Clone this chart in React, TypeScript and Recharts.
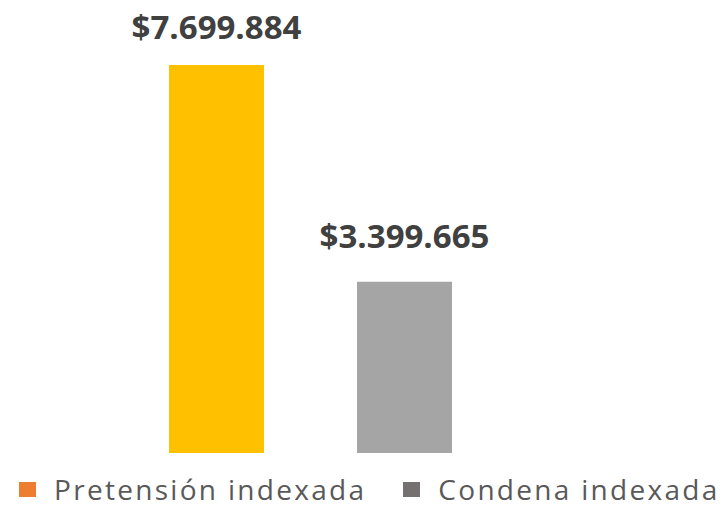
import React from 'react';
import { BarChart, Bar, XAxis, YAxis, Legend, LabelList } from 'recharts';

const categories = ['Total'];
const pretension = [7699884];
const condena = [3399665];
const seriesKeys = ['pretension', 'condena'];
const seriesNames = ['Pretensión indexada', 'Condena indexada'];
const barColors = ['#FFC000', '#A5A5A5'];
const legendColors = ['#ED7D31', '#767171'];

const data = categories.map((c, i) => ({
  name: c,
  pretension: pretension[i],
  condena: condena[i],
}));

const fmt = (v: number) =>
  '$' + Math.round(v).toString().replace(/\B(?=(\d{3})+(?!\d))/g, '.');

const LABEL_FONT = 33;

const renderLabel = (props: any) => {
  const { x, y, width, value } = props;
  const baseline = Math.max(Number(y) - 34, LABEL_FONT + 6);
  return (
    <text
      x={Number(x) + Number(width) / 2}
      y={baseline}
      textAnchor="middle"
      fill="#404040"
      fontFamily="'Open Sans', sans-serif"
      fontWeight={700}
      fontSize={LABEL_FONT}
    >
      {fmt(Number(value))}
    </text>
  );
};

const renderLegend = () => {
  return (
    <div
      style={{
        display: 'flex',
        alignItems: 'center',
        fontFamily: "'Open Sans', sans-serif",
        fontSize: 28,
        lineHeight: '30px',
        letterSpacing: '2.3px',
        color: '#595959',
        whiteSpace: 'nowrap',
      }}
    >
      {seriesNames.map((name, i) => (
        <div
          key={i}
          style={{ display: 'flex', alignItems: 'center', marginLeft: i === 0 ? 19 : 37 }}
        >
          <span
            style={{
              display: 'inline-block',
              width: 17,
              height: 15,
              background: legendColors[i],
              marginRight: 18,
            }}
          />
          <span>{name}</span>
        </div>
      ))}
    </div>
  );
};

export default function App() {
  return (
    <div style={{ position: 'absolute', left: 0, top: 0, width: 728, height: 505, background: '#fff' }}>
      <BarChart
        width={728}
        height={505}
        data={data}
        margin={{ top: 65, right: 129, bottom: 52, left: 21 }}
        barSize={95}
        barGap={93}
      >
        <XAxis dataKey="name" hide />
        <YAxis hide domain={[0, pretension[0]]} />
        <Legend
          layout="horizontal"
          verticalAlign="middle"
          align="center"
          content={renderLegend}
          wrapperStyle={{ top: 474, left: 0, width: 728, height: 30, overflow: 'visible' }}
        />
        {seriesKeys.map((k, i) => (
          <Bar key={k} dataKey={k} name={seriesNames[i]} fill={barColors[i]} isAnimationActive={false}>
            <LabelList dataKey={k} content={renderLabel} />
          </Bar>
        ))}
      </BarChart>
    </div>
  );
}
